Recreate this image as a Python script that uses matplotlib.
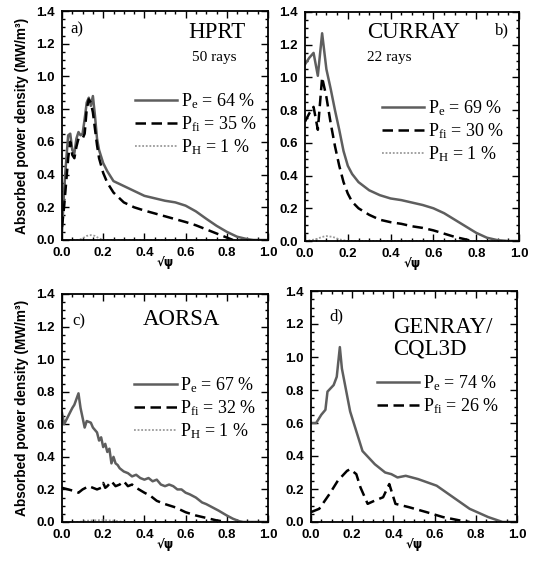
import numpy as np
import matplotlib
matplotlib.use("Agg")
import matplotlib.pyplot as plt
from matplotlib.ticker import MultipleLocator

plt.rcParams['mathtext.fontset'] = 'custom'
plt.rcParams['mathtext.rm'] = 'Liberation Serif'
plt.rcParams['mathtext.it'] = 'Liberation Serif:italic'

# ---- a) HPRT
a_pe_x = [0.0, 0.01, 0.02, 0.03, 0.04, 0.05, 0.06, 0.07, 0.08, 0.09, 0.10, 0.11, 0.12, 0.13, 0.14, 0.15,
          0.16, 0.17, 0.18, 0.20, 0.22, 0.25, 0.30, 0.35, 0.40, 0.45, 0.50, 0.55, 0.60, 0.65, 0.70, 0.75,
          0.80, 0.85, 0.90, 0.93, 1.0]
a_pe_y = [0.05, 0.30, 0.48, 0.64, 0.65, 0.55, 0.53, 0.62, 0.66, 0.64, 0.65, 0.74, 0.84, 0.87, 0.82, 0.88,
          0.76, 0.62, 0.55, 0.47, 0.42, 0.36, 0.33, 0.30, 0.27, 0.255, 0.24, 0.23, 0.21, 0.175, 0.13, 0.087,
          0.05, 0.02, 0.005, 0.0, 0.0]
a_fi_x = [0.0, 0.01, 0.02, 0.03, 0.04, 0.05, 0.06, 0.07, 0.08, 0.10, 0.11, 0.12, 0.13, 0.14, 0.15, 0.16,
          0.17, 0.18, 0.20, 0.22, 0.25, 0.30, 0.35, 0.40, 0.50, 0.60, 0.65, 0.70, 0.75, 0.80, 0.83]
a_fi_y = [0.08, 0.20, 0.35, 0.50, 0.60, 0.52, 0.50, 0.57, 0.62, 0.62, 0.65, 0.80, 0.86, 0.84, 0.78, 0.68,
          0.58, 0.50, 0.41, 0.35, 0.29, 0.23, 0.20, 0.18, 0.145, 0.11, 0.09, 0.065, 0.04, 0.015, 0.0]
a_h_x = [0.0, 0.08, 0.10, 0.12, 0.14, 0.16, 0.18, 0.20, 1.0]
a_h_y = [0.0, 0.0, 0.01, 0.025, 0.03, 0.025, 0.01, 0.0, 0.0]

# ---- b) CURRAY
b_pe_x = [0.0, 0.02, 0.04, 0.06, 0.08, 0.10, 0.12, 0.14, 0.16, 0.18, 0.20, 0.22, 0.25, 0.30, 0.35, 0.40,
          0.45, 0.50, 0.55, 0.60, 0.65, 0.70, 0.75, 0.80, 0.85, 0.90, 0.95, 1.0]
b_pe_y = [1.08, 1.12, 1.15, 1.01, 1.27, 1.05, 0.93, 0.80, 0.68, 0.55, 0.46, 0.41, 0.36, 0.31, 0.28, 0.26,
          0.25, 0.235, 0.22, 0.20, 0.17, 0.13, 0.09, 0.05, 0.02, 0.005, 0.0, 0.0]
b_fi_x = [0.0, 0.02, 0.04, 0.06, 0.08, 0.10, 0.12, 0.14, 0.16, 0.18, 0.20, 0.22, 0.25, 0.30, 0.35, 0.40,
          0.45, 0.50, 0.55, 0.60, 0.65, 0.70, 0.75, 0.78]
b_fi_y = [0.73, 0.78, 0.82, 0.68, 1.0, 0.88, 0.72, 0.58, 0.46, 0.36, 0.29, 0.24, 0.20, 0.16, 0.13, 0.115,
          0.105, 0.09, 0.08, 0.065, 0.045, 0.025, 0.01, 0.0]
b_h_x = [0.0, 0.05, 0.08, 0.10, 0.13, 0.16, 0.20, 1.0]
b_h_y = [0.0, 0.01, 0.025, 0.03, 0.025, 0.01, 0.0, 0.0]

# ---- c) AORSA
c_pe_x = [0.0, 0.01, 0.03, 0.05, 0.06, 0.08, 0.09, 0.11, 0.12, 0.14, 0.15, 0.17, 0.18, 0.19, 0.20, 0.21,
          0.22, 0.23, 0.24, 0.25, 0.26, 0.27, 0.28, 0.30, 0.32, 0.34, 0.36, 0.38, 0.40, 0.42, 0.44, 0.46,
          0.48, 0.50, 0.52, 0.54, 0.56, 0.58, 0.60, 0.62, 0.65, 0.68, 0.70, 0.73, 0.76, 0.80, 0.83, 0.86,
          0.88, 1.0]
c_pe_y = [0.67, 0.60, 0.65, 0.70, 0.72, 0.79, 0.70, 0.58, 0.62, 0.61, 0.58, 0.55, 0.50, 0.52, 0.46, 0.48,
          0.43, 0.45, 0.36, 0.40, 0.36, 0.35, 0.33, 0.31, 0.30, 0.28, 0.29, 0.27, 0.26, 0.27, 0.25, 0.26,
          0.23, 0.22, 0.23, 0.22, 0.20, 0.20, 0.18, 0.17, 0.15, 0.12, 0.11, 0.09, 0.07, 0.04, 0.02, 0.005,
          0.0, 0.0]
c_fi_x = [0.0, 0.03, 0.06, 0.08, 0.10, 0.13, 0.15, 0.17, 0.19, 0.20, 0.21, 0.22, 0.24, 0.26, 0.28, 0.30,
          0.32, 0.34, 0.36, 0.40, 0.43, 0.46, 0.50, 0.55, 0.60, 0.65, 0.70, 0.75, 0.80]
c_fi_y = [0.21, 0.20, 0.19, 0.18, 0.20, 0.22, 0.21, 0.20, 0.21, 0.24, 0.21, 0.22, 0.25, 0.22, 0.23, 0.25,
          0.22, 0.23, 0.21, 0.18, 0.16, 0.13, 0.11, 0.09, 0.06, 0.04, 0.025, 0.01, 0.0]
c_h_x = [0.0, 0.08, 0.12, 0.16, 0.20, 0.25, 0.30, 1.0]
c_h_y = [0.0, 0.0, 0.008, 0.01, 0.012, 0.008, 0.0, 0.0]

# ---- d) GENRAY/CQL3D
d_pe_x = [0.0, 0.025, 0.05, 0.07, 0.08, 0.11, 0.125, 0.14, 0.15, 0.17, 0.19, 0.22, 0.25, 0.31, 0.36, 0.39,
          0.42, 0.46, 0.52, 0.61, 0.69, 0.77, 0.86, 0.93, 1.0]
d_pe_y = [0.60, 0.60, 0.65, 0.68, 0.79, 0.83, 0.88, 1.06, 0.93, 0.80, 0.67, 0.55, 0.43, 0.35, 0.30, 0.29,
          0.27, 0.28, 0.26, 0.22, 0.15, 0.08, 0.03, 0.0, 0.0]
d_fi_x = [0.0, 0.04, 0.09, 0.13, 0.175, 0.19, 0.22, 0.24, 0.275, 0.31, 0.35, 0.38, 0.41, 0.475, 0.56,
          0.64, 0.72, 0.77]
d_fi_y = [0.06, 0.08, 0.17, 0.25, 0.31, 0.32, 0.29, 0.21, 0.11, 0.13, 0.15, 0.23, 0.11, 0.09, 0.06,
          0.03, 0.01, 0.0]

panels = [
    dict(rect=(62, 11, 268, 240), tag="a)", title="HPRT", sub="50 rays",
         pe=(a_pe_x, a_pe_y, 64), fi=(a_fi_x, a_fi_y, 35), h=(a_h_x, a_h_y, 1), ylab=True),
    dict(rect=(305, 12, 519, 241), tag="b)", title="CURRAY", sub="22 rays",
         pe=(b_pe_x, b_pe_y, 69), fi=(b_fi_x, b_fi_y, 30), h=(b_h_x, b_h_y, 1), ylab=False),
    dict(rect=(62, 294, 268, 522), tag="c)", title="AORSA", sub=None,
         pe=(c_pe_x, c_pe_y, 67), fi=(c_fi_x, c_fi_y, 32), h=(c_h_x, c_h_y, 1), ylab=True),
    dict(rect=(311, 291, 517, 522), tag="d)", title="GENRAY/\nCQL3D", sub=None,
         pe=(d_pe_x, d_pe_y, 74), fi=(d_fi_x, d_fi_y, 26), h=None, ylab=False),
]

# text placement (axes fractions) per panel
tag_pos = [(0.04, 0.92), (0.89, 0.92), (0.05, 0.88), (0.09, 0.89)]
title_pos = [(0.615, 0.905), (0.29, 0.91), (0.39, 0.89), (0.40, 0.795)]
sub_pos = [(0.63, 0.795), (0.29, 0.80)]
leg_pos = [(0.354, 0.65), (0.36, 0.625), (0.35, 0.645), (0.32, 0.645)]

W, H = 534, 561
fig = plt.figure(figsize=(W / 100, H / 100), dpi=100)

SERIF = 'Liberation Serif'
SANS = 'Liberation Sans'

for i, p in enumerate(panels):
    x0, y0, x1, y1 = p["rect"]
    ax = fig.add_axes([x0 / W, 1 - y1 / H, (x1 - x0) / W, (y1 - y0) / H])

    px, py, pv = p["pe"]
    ax.plot(px, py, color="#5e5e5e", lw=1.8, label=r"P$_{\mathrm{e}}$ = %d %%" % pv)
    fx, fy, fv = p["fi"]
    ax.plot(fx, fy, color="black", lw=1.8, dashes=(4.2, 2.2), label=r"P$_{\mathrm{fi}}$ = %d %%" % fv)
    if p["h"] is not None:
        hx, hy, hv = p["h"]
        ax.plot(hx, hy, color="#9a9a9a", lw=1.3, ls=(0, (1, 1)), label=r"P$_{\mathrm{H}}$ = %d %%" % hv)

    ax.set_xlim(0, 1.0)
    ax.set_ylim(0, 1.4)
    ax.xaxis.set_major_locator(MultipleLocator(0.2))
    ax.yaxis.set_major_locator(MultipleLocator(0.2))
    ax.xaxis.set_minor_locator(MultipleLocator(0.05))
    ax.yaxis.set_minor_locator(MultipleLocator(0.05))
    ax.tick_params(which="both", direction="in", top=True, right=True, width=1.0)
    ax.tick_params(which="major", length=5, pad=5)
    ax.tick_params(which="minor", length=2.5)
    for lab in ax.get_xticklabels() + ax.get_yticklabels():
        lab.set_fontfamily(SANS)
        lab.set_fontweight("bold")
        lab.set_fontsize(9.5)
    for s in ax.spines.values():
        s.set_linewidth(1.3)

    ax.set_xlabel("√ψ", fontsize=8.5, fontweight="bold", family="DejaVu Sans", labelpad=-2)
    if p["ylab"]:
        ax.set_ylabel("Absorbed power density (MW/m³)", fontsize=9.8, fontweight="bold",
                      family=SANS, labelpad=5)

    tx, ty = tag_pos[i]
    ax.text(tx, ty, p["tag"], transform=ax.transAxes, family=SERIF, fontsize=12, va="center")
    ttx, tty = title_pos[i]
    ax.text(ttx, tty, p["title"], transform=ax.transAxes, family=SERIF, fontsize=16.5,
            va="center", ha="left", linespacing=1.0)
    if p["sub"] is not None:
        sx, sy = sub_pos[i]
        ax.text(sx, sy, p["sub"], transform=ax.transAxes, family=SERIF, fontsize=11, va="center")

    lx, ly = leg_pos[i]
    ax.legend(loc="upper left", bbox_to_anchor=(lx, ly), frameon=False, prop=dict(family=SERIF, size=13),
              handlelength=2.35, handletextpad=0.2, labelspacing=0.2, borderpad=0, borderaxespad=0)

fig.savefig("out.png", dpi=100)
